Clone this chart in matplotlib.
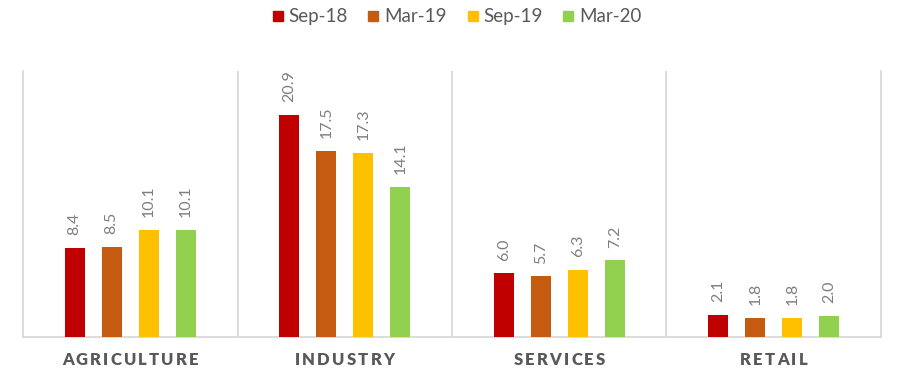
import numpy as np
import matplotlib
matplotlib.use("Agg")
import matplotlib.pyplot as plt
from matplotlib.lines import Line2D

# ---- data ----
categories = ["AGRICULTURE", "INDUSTRY", "SERVICES", "RETAIL"]
series_names = ["Sep-18", "Mar-19", "Sep-19", "Mar-20"]
sep18 = [8.4, 20.9, 6.0, 2.1]
mar19 = [8.5, 17.5, 5.7, 1.8]
sep19 = [10.1, 17.3, 6.3, 1.8]
mar20 = [10.1, 14.1, 7.2, 2.0]

colors = ["#C00000", "#C55A11", "#FFC000", "#92D050"]
grid_col = "#D9D9D9"

plt.rcParams["font.family"] = ["Lato", "DejaVu Sans"]

fig = plt.figure(figsize=(9.04, 3.83), dpi=100)
ax = fig.add_axes([23 / 904, 1 - 337 / 383, 858 / 904, (337 - 71) / 383])

x = np.arange(len(categories))
step = 0.1725
width = 0.093
offsets = [-1.5 * step, -0.5 * step, 0.5 * step, 1.5 * step]

for vals, off, col in zip([sep18, mar19, sep19, mar20], offsets, colors):
    bars = ax.bar(x + off, vals, width=width, color=col, zorder=3)
    for b, v in zip(bars, vals):
        ax.annotate(f"{v:.1f}", (b.get_x() + b.get_width() / 2, b.get_height()),
                    xytext=(0, 9), textcoords="offset points",
                    rotation=90, ha="center", va="bottom",
                    fontsize=11.5, color="#7F7F7F")

ax.set_xlim(-0.5, len(categories) - 0.5)
ax.set_ylim(0, 25)
for xs in x[:-1] + 0.5:
    ax.axvline(xs, color=grid_col, lw=1.3, zorder=1)

for s in ["left", "right", "bottom"]:
    ax.spines[s].set_color(grid_col)
    ax.spines[s].set_linewidth(1.3)
ax.spines["top"].set_visible(False)
ax.set_xticks([])
ax.set_yticks([])

# category labels with letter spacing
renderer = fig.canvas.get_renderer()
tracking = 2.2
for i, name in enumerate(categories):
    widths = []
    for ch in name:
        t = fig.text(0, 0, ch, fontsize=12, fontweight="heavy")
        widths.append(t.get_window_extent(renderer).width)
        t.remove()
    total = sum(widths) + tracking * (len(name) - 1)
    pos = -total / 2
    for ch, w in zip(name, widths):
        ax.annotate(ch, (i, 0), xycoords=("data", "axes fraction"),
                    xytext=(pos, -23), textcoords="offset pixels",
                    ha="left", va="center", fontsize=12,
                    fontweight="heavy", color="#595959")
        pos += w + tracking

handles = [Line2D([], [], marker="s", linestyle="none", markersize=7.5,
                  markerfacecolor=c, markeredgecolor=c) for c in colors]
fig.legend(handles, series_names, loc="center", bbox_to_anchor=(0.505, 0.956),
           ncol=4, frameon=False, fontsize=13.5, handlelength=0.6,
           handletextpad=0.25, columnspacing=1.1, labelcolor="#595959")

fig.savefig("out.png", dpi=100)
